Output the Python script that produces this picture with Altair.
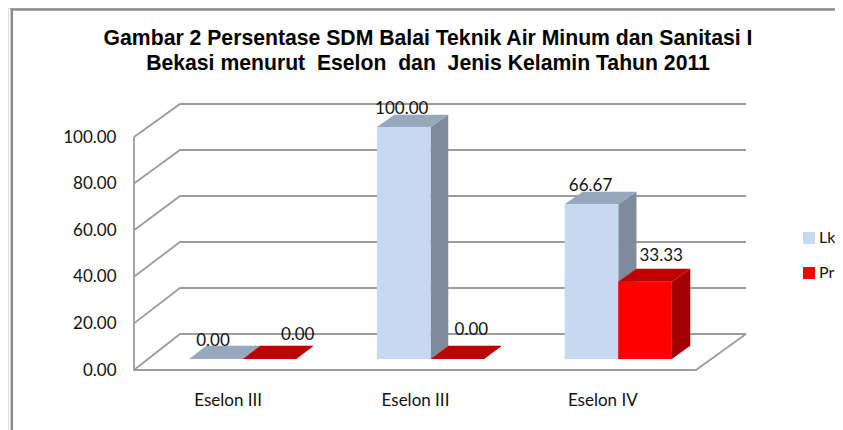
import altair as alt
import pandas as pd

# ---- data -------------------------------------------------------------
title_lines = ["Gambar 2 Persentase SDM Balai Teknik Air Minum dan Sanitasi I",
               "Bekasi menurut\u00a0 Eselon\u00a0 dan\u00a0 Jenis Kelamin Tahun 2011"]
categories = ["Eselon III", "Eselon III", "Eselon IV"]
lk_values = [0.0, 100.0, 66.67]
pr_values = [0.0, 0.0, 33.33]
y_ticks = [0, 20, 40, 60, 80, 100]

# ---- oblique projection (depth d: 0 = front of floor, 1 = back wall) ---
VIEW_W, VIEW_H = 827, 422
SLOT_PX, Y_PX = 187.33, 2.33
DEPTH_X_PX, DEPTH_Y_PX = 46.0, 36.0
LEFT_PX, ZERO_PX = 134.0, 370.0
BAR_W = 0.2857
D_FRONT, D_BACK = 14 / 46, 31 / 46
BAR_SHIFT = 0.005


def pu(u, d):
    return u * (1 + 0.007 * d) + d * DEPTH_X_PX / SLOT_PX


def pv(v, d):
    return v * (1 - 0.0129 * d) + d * DEPTH_Y_PX / Y_PX


x_scale = alt.Scale(domain=[(8 - LEFT_PX) / SLOT_PX, (8 + VIEW_W - LEFT_PX) / SLOT_PX],
                    nice=False, zero=False)
y_scale = alt.Scale(domain=[(ZERO_PX - 8 - VIEW_H) / Y_PX, (ZERO_PX - 8) / Y_PX],
                    nice=False, zero=False)
x_axis = alt.Axis(
    orient="bottom", values=[0.5, 1.5, 2.5], offset=-38, domain=False, ticks=False, grid=False,
    labelPadding=0, labelFont="Lato", labelFontSize=17, labelColor="#111111",
    labelExpr=f"{categories}[floor(datum.value)]")
y_axis = alt.Axis(
    orient="left", values=y_ticks, format=".2f", offset=-108, domain=False, ticks=False,
    grid=False, labelPadding=0, labelFont="Lato", labelFontSize=17, labelColor="#111111")
X = alt.X("x:Q", scale=x_scale, axis=x_axis, title=None)
Y = alt.Y("y:Q", scale=y_scale, axis=y_axis, title=None)

# ---- walls and floor ---------------------------------------------------
wall_rows = []
n_slots = len(categories)
for t in y_ticks:
    path = [(0, t, 0), (0, t, 1), (n_slots, t, 1)]
    for k, (u, v, d) in enumerate(path):
        wall_rows.append({"id": f"g{t}", "k": k, "x": pu(u, d), "y": pv(v, d)})
for k, (u, v, d) in enumerate([(0, y_ticks[-1], 0), (0, 0, 0), (n_slots, 0, 0), (n_slots, 0, 1)]):
    wall_rows.append({"id": "floor", "k": k, "x": pu(u, d), "y": pv(v, d)})
walls = pd.DataFrame(wall_rows)

wall_layer = alt.Chart(walls).mark_line(color="#9c9c9c", strokeWidth=1.8).encode(
    x=X, y=Y, detail="id:N", order="k:Q")


# ---- bars --------------------------------------------------------------
def bar_frames(series, values, shift):
    front, top, side = [], [], []
    for i, val in enumerate(values):
        u0 = i + 0.5 + (shift - 1) * BAR_W + BAR_SHIFT
        u1 = u0 + BAR_W
        front.append({"series": series, "x": pu(u0, D_FRONT), "x2": pu(u1, D_FRONT),
                      "y": pv(val, D_FRONT), "y2": pv(0, D_FRONT)})
        for d in (D_FRONT, D_BACK):
            top.append({"bar": i, "y": pv(val, d), "x": pu(u0, d), "x2": pu(u1, d)})
            side.append({"bar": i, "x": pu(u1, d), "y": pv(val, d), "y2": pv(0, d)})
    return pd.DataFrame(front), pd.DataFrame(top), pd.DataFrame(side)


color_enc = alt.Color("series:N",
                      scale=alt.Scale(domain=["Lk", "Pr"], range=["#C6D9F1", "#FF0000"]),
                      legend=alt.Legend(orient="none", legendX=793, legendY=222, title=None,
                                        symbolType="square", symbolSize=144, symbolStrokeWidth=0,
                                        labelFont="Lato", labelFontSize=16, labelColor="#111111",
                                        rowPadding=19, labelOffset=2, padding=0))


def bar_layers(series, values, shift, top_color, side_color):
    front, top, side = bar_frames(series, values, shift)
    return [
        alt.Chart(side).mark_area(color=side_color, orient="vertical").encode(
            x=X, y=Y, y2="y2:Q", detail="bar:N"),
        alt.Chart(top).mark_area(color=top_color, orient="horizontal").encode(
            y=Y, x=X, x2="x2:Q", detail="bar:N"),
        alt.Chart(front).mark_bar().encode(x=X, x2="x2:Q", y=Y, y2="y2:Q", color=color_enc),
    ]


lk_layers = bar_layers("Lk", lk_values, 0, "#98A8BC", "#7F8B9A")
pr_layers = bar_layers("Pr", pr_values, 1, "#C00000", "#A00000")


# ---- data labels -------------------------------------------------------
def label_layer(values, shift, index, dx, dy):
    df = pd.DataFrame({"x": [pu(index + 0.5 + (shift - 0.5) * BAR_W, D_FRONT)],
                       "y": [pv(values[index], D_FRONT)],
                       "t": [f"{values[index]:.2f}"]})
    return alt.Chart(df).mark_text(font="Lato", fontSize=17, color="#111111", dx=dx, dy=dy,
                                   baseline="middle", align="center").encode(x=X, y=Y, text="t:N")


labels = [
    label_layer(lk_values, 0, 0, -2, -18),
    label_layer(lk_values, 0, 1, -1, -18),
    label_layer(lk_values, 0, 2, 0, -18),
    label_layer(pr_values, 1, 0, 29, -24),
    label_layer(pr_values, 1, 1, 15, -29),
    label_layer(pr_values, 1, 2, 17, -26),
]

# ---- outer frame -------------------------------------------------------
frame_left = alt.Chart(pd.DataFrame({"a": [0]})).mark_rule(color="#8c8c8c", strokeWidth=2.5).encode(
    x=alt.value(3.8), y=alt.value(0.5), y2=alt.value(VIEW_H))
frame_top = alt.Chart(pd.DataFrame({"a": [0]})).mark_rule(color="#8c8c8c", strokeWidth=2.5).encode(
    x=alt.value(2.5), x2=alt.value(VIEW_W), y=alt.value(1.6))

chart = alt.layer(
    frame_left, frame_top, wall_layer, *lk_layers, *pr_layers, *labels,
).properties(
    width=VIEW_W, height=VIEW_H,
    padding=0,
    autosize=alt.AutoSizeParams(type="none"),
    title=alt.TitleParams(text=title_lines, font="Liberation Sans", fontSize=21.2, fontWeight="bold",
                          color="#000000", anchor="middle", dx=6.5, offset=-87.5, lineHeight=25,
                          baseline="bottom"),
).configure_view(stroke=None).configure(background="white")

chart.save("out.html", embed_options={"renderer": "svg", "actions": False})
